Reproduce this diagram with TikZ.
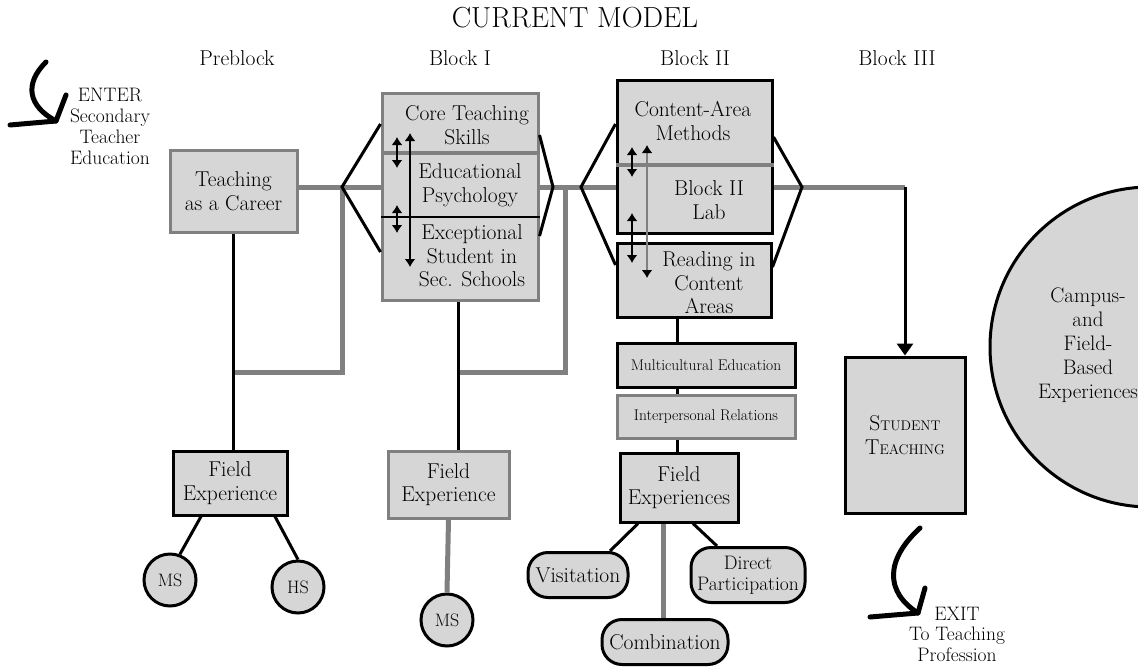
\documentclass[tikz,border=0pt]{standalone}
\usepackage{fontspec}
\usetikzlibrary{arrows.meta}
\newcommand\smc[2]{#1{\fontsize{14}{16}\selectfont #2}}

\begin{document}
\begin{tikzpicture}[x=1pt, y=-1pt, every node/.style={font=\fontsize{21.5}{23.5}\selectfont, align=center}]
\tikzset{
        box/.style={draw, line width=3pt, fill=black!16, inner sep=0pt},
        gbox/.style={box, draw=black!50},
        pill/.style={box, rounded corners=20pt},
        ring/.style={box, circle, minimum size=52pt, font=\fontsize{18}{20}\selectfont},
        bline/.style={line width=3pt},
        gline/.style={line width=5pt, black!50},
        tw/.style={{Latex[length=8pt,width=11pt]}-{Latex[length=8pt,width=11pt]}, line width=2.5pt},
        gtw/.style={tw, black!50, {Latex[length=8pt,width=11pt,black]}-{Latex[length=8pt,width=11pt,black]}},
        hand/.style={line width=5pt, line cap=round, line join=round},
        small/.style={font=\fontsize{19.5}{21}\selectfont},
        tiny/.style={font=\fontsize{15.5}{18}\selectfont},
    }
  \clip (0,0) rectangle (1138,667);

  % headings
  \node[font=\fontsize{29}{32}\selectfont] (title) at (575,18) {CURRENT MODEL};
  \node (pre) at (237,58) {Preblock};
  \node (hI) at (460,58) {Block I};
  \node (hII) at (695,58) {Block II};
  \node (hIII) at (897,58) {Block III};

  % enter / exit
  \node[small] (enter) at (110,126) {ENTER\\Secondary\\Teacher\\Education};
  \coordinate (enterTip) at (56,121);
  \draw[hand] (46,62) .. controls (24,84) and (28,106) .. (enterTip);
  \draw[hand] (66,95) -- (enterTip) -- (10,125);
  \node[small, font=\fontsize{19.5}{20.5}\selectfont] (exit) at (957,634) {EXIT\\To Teaching\\Profession};
  \coordinate (exitTip) at (918,613);
  \draw[hand] (920,528) .. controls (885,560) and (885,592) .. (exitTip);
  \draw[hand] (925,588) -- (exitTip) -- (870,617);

  % preblock
  \node[gbox, minimum width=127, minimum height=82] (career) at (233.5,191) {Teaching\\as a Career};
  \node[box, minimum width=114, minimum height=64] (fe0) at (230,483) {Field\\Experience};
  \node[ring] (ms0) at (170,580) {MS};
  \node[ring] (hs) at (298,587) {HS};

  % block I
  \node[gbox, minimum width=156, minimum height=207] (blockI) at (460,196.5) {};
  \node (core) at (467,125) {Core Teaching\\Skills};
  \node (edpsy) at (470,185) {Educational\\Psychology};
  \node (excep) at (472,256) {Exceptional\\Student in\\Sec. Schools};
  \draw[gline, line width=4pt] (blockI.west |- 0,153) -- (blockI.east |- 0,153);
  \draw[bline, line width=2pt] (blockI.west |- 0,217) -- (blockI.east |- 0,217);
  \node[gbox, minimum width=121, minimum height=67] (fe1) at (448.5,484.5) {Field\\Experience};
  \node[ring] (ms1) at (447,620) {MS};

  % block II
  \node[box, minimum width=155, minimum height=153] (blockII) at (694.5,156.5) {};
  \node (methods) at (693,121) {Content-Area\\Methods};
  \node (lab) at (709,200) {Block II\\Lab};
  \draw[gline, line width=4pt] (blockII.west |- 0,165) -- (blockII.east |- 0,165);
  \node[box, minimum width=154, minimum height=74] (reading) at (694,280) {};
  \node (readtxt) at (709,283) {Reading in\\Content\\Areas};
  \node[box, tiny, minimum width=178, minimum height=44] (multi) at (706,365) {Multicultural Education};
  \node[gbox, tiny, minimum width=178, minimum height=43] (inter) at (706,416.5) {Interpersonal Relations};
  \node[box, minimum width=118, minimum height=69] (fe2) at (679,487.5) {Field\\Experiences};
  \node[pill, minimum width=100, minimum height=45] (visit) at (578,575) {Visitation};
  \node[pill, minimum width=126, minimum height=45] (combo) at (665,642) {Combination};
  \node[pill, small, minimum width=114, minimum height=55] (direct) at (748,575) {Direct\\Participation};

  % block III
  \node[box, minimum width=120, minimum height=156] (student) at (905,435) {\smc{S}{TUDENT}\\\smc{T}{EACHING}};
  \node[box, circle, minimum size=320] (campus) at (1150,347) {};
  \node[font=\fontsize{21}{24}\selectfont] (camptxt) at (1088,345) {Campus-\\and\\Field-\\Based\\Experiences};

  % fan points
  \coordinate (f1) at (342,187);
  \coordinate (f2) at (553,187);
  \coordinate (j1) at (565,187);
  \coordinate (f3) at (581,187);
  \coordinate (f4) at (802,187);
  \coordinate (turn) at (student.north |- f4);

  % gray flow lines
  \draw[gline] (career.east |- f1) -- (f1) -- (blockI.west |- f1);
  \draw[gline] (blockI.east |- f2) -- (f3) -- (blockII.west |- f3);
  \draw[gline] (blockII.east |- f4) -- (f4) -- (turn);
  \draw[gline] (f1) -- (f1 |- 0,372) -- (career.south |- 0,372);
  \draw[gline] (j1) -- (j1 |- 0,372) -- (blockI.south |- 0,372);
  \draw[bline, -{Triangle[length=12pt,width=16pt]}] (turn) -- (student.north);

  % fans
  \draw[bline] (blockI.west |- 0,124) -- (f1) -- (blockI.west |- 0,252);
  \draw[bline] (blockI.east |- 0,135) -- (f2) -- (blockI.east |- 0,236);
  \draw[bline] (blockII.west |- 0,124) -- (f3) -- (reading.west |- 0,265);
  \draw[bline] (blockII.east |- 0,137) -- (f4) -- (reading.east |- 0,267);

  % two-way arrows
  \foreach \x/\a/\b in {397/137/168, 397/205/233, 410/133/267, 632/147/177, 632/213/263}
    \draw[tw] (\x,\a) -- (\x,\b);
  \draw[gtw] (647,145) -- (647,278);

  % down links
  \draw[bline] (career.south) -- (career.south |- fe0.north);
  \draw[bline] (fe0.south -| 201,0) -- (ms0.69);
  \draw[bline] (fe0.south -| 275,0) -- (hs.north);
  \draw[bline] (blockI.south -| 458,0) -- (fe1.north -| 458,0);
  \draw[gline] (fe1.south) -- (ms1.north);
  \draw[bline] (reading.south -| 677,0) -- (multi.north -| 677,0);
  \draw[bline] (multi.south -| 677,0) -- (inter.north -| 677,0);
  \draw[bline] (inter.south -| 677,0) -- (fe2.north -| 677,0);
  \draw[bline] (fe2.south -| 638,0) -- (visit.north -| 610,0);
  \draw[gline] (fe2.south -| 663,0) -- (combo.north -| 663,0);
  \draw[bline] (fe2.south -| 693,0) -- (direct.north -| 717,0);
\end{tikzpicture}
\end{document}
